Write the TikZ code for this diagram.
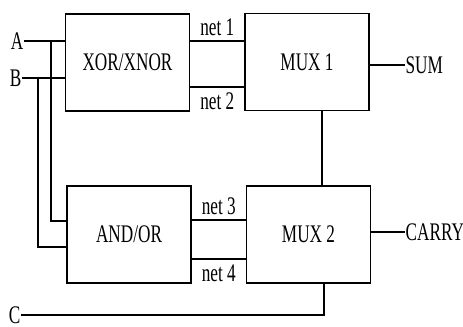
\documentclass[tikz,border=0pt]{standalone}
\usepackage{fontspec}
\setmainfont{Liberation Serif}
\usepackage{graphicx}
\usepackage{tikz}
\newcommand{\sq}[1]{\scalebox{0.68}[1]{#1}}

\begin{document}
\begin{tikzpicture}[x=0.025cm, y=-0.025cm, line width=0.9pt,
    blk/.style={draw, minimum width=3.1cm, minimum height=2.42cm, inner sep=0pt,
                font=\fontsize{18}{20}\selectfont},
    sig/.style={inner sep=0pt, font=\fontsize{18}{20}\selectfont}]
    \useasboundingbox (0,0) rectangle (463,327);

    % blocks
    \node[blk] (xor)  at (127.5,62.5) {\sq{XOR/XNOR}};
    \node[blk] (mux1) at (307,62)     {\sq{MUX 1}};
    \node[blk] (andor) at (129,234.5) {\sq{AND/OR}};
    \node[blk] (mux2) at (308.5,234.5) {\sq{MUX 2}};

    % inputs and outputs
    \node[sig, anchor=east] (a) at (24,41)  {\sq{A}};
    \node[sig, anchor=east] (b) at (22,78)  {\sq{B}};
    \node[sig, anchor=east] (c) at (21,315) {\sq{C}};
    \node[sig, anchor=west] (sum)   at (405,65)  {\sq{SUM}};
    \node[sig, anchor=west] (carry) at (405,232) {\sq{CARRY}};

    \coordinate (ja) at (51,41);
    \coordinate (jb) at (38,78);

    \draw (a.east) -- (xor.west |- a.east);
    \draw (b.east) -- (xor.west |- b.east);
    \draw (ja) |- ([yshift=0.34cm]andor.west);
    \draw (jb) |- ([yshift=-0.31cm]andor.west);

    % nets
    \draw ([yshift=0.54cm]xor.east) -- ([yshift=0.54cm]xor.east -| mux1.west)
        node[sig, midway, above=3pt] {\sq{net 1}};
    \draw ([yshift=-0.61cm]xor.east) -- ([yshift=-0.61cm]xor.east -| mux1.west)
        node[sig, midway, below=4pt] {\sq{net 2}};
    \draw ([yshift=0.36cm]andor.east) -- ([yshift=0.36cm]andor.east -| mux2.west)
        node[sig, midway, above=3pt] {\sq{net 3}};
    \draw ([yshift=-0.61cm]andor.east) -- ([yshift=-0.61cm]andor.east -| mux2.west)
        node[sig, midway, below=4pt] {\sq{net 4}};

    \draw ([xshift=0.375cm]mux1.south) -- ([xshift=0.375cm]mux1.south |- mux2.north);
    \draw (mux1.east |- sum.west) -- (sum.west);
    \draw (mux2.east |- carry.west) -- (carry.west);
    \draw ([xshift=0.39cm]mux2.south) |- (c.east);
  \end{tikzpicture}
\end{document}
